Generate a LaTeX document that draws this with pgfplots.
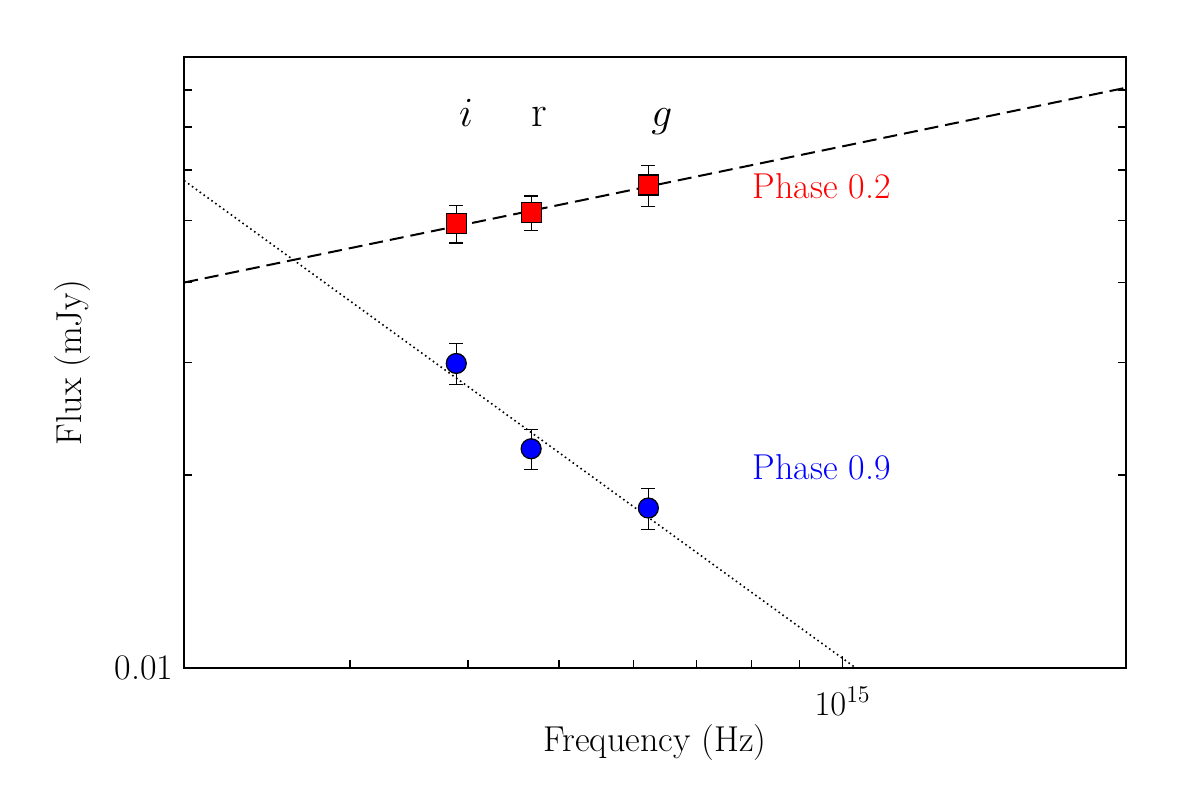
\documentclass[border=0pt]{standalone}
\usepackage{pgfplots}
\pgfplotsset{compat=1.18}
\newcommand{\F}{\fontsize{18}{22}\selectfont}
\begin{document}
\begin{tikzpicture}[x=1pt,y=1pt]
\path[use as bounding box] (0,0) rectangle (590.5,393);
\begin{axis}[
  at={(92pt,59pt)}, anchor=south west,
  scale only axis, width=471pt, height=305.5pt,
  xmode=log, ymode=log,
  xmin=2e14, xmax=2e15, ymin=0.01, ymax=0.09,
  axis line style={line width=1pt},
  xtick={1e15}, minor xtick={3e14,4e14,5e14,6e14,7e14,8e14,9e14},
  xtick pos=bottom,
  ytick={0.01}, yticklabels={0.01},
  minor ytick={0.02,0.03,0.04,0.05,0.06,0.07,0.08,0.09},
  ytick pos=both, yticklabel pos=left,
  tick align=inside,
  major tick length=6pt, minor tick length=4pt,
  every tick/.style={black, line width=0.8pt},
  tick label style={font=\F},
  xticklabel style={yshift=-6pt},
  yticklabel style={xshift=-2pt},
  xlabel={Frequency (Hz)}, ylabel={Flux (mJy)},
  every axis x label/.style={at={(axis description cs:0.5,-0.1227)}, anchor=center, font=\F},
  every axis y label/.style={at={(axis description cs:-0.1189,0.5)}, rotate=90, anchor=center, font=\F},
]
\addplot[only marks, mark=square*, mark size=5pt,
  mark options={fill=red, draw=black, line width=0.6pt},
  error bars/.cd, y dir=both, y explicit,
  error bar style={line width=0.6pt, black},
  error mark options={rotate=90, mark size=3.5pt, line width=0.6pt, black}]
  coordinates {
  (3.89e14,0.0494) +- (0,0.0033)
  (4.67e14,0.0514) +- (0,0.0032)
  (6.22e14,0.0568) +- (0,0.0042)
  };
\addplot[only marks, mark=*, mark size=5pt,
  mark options={fill=blue, draw=black, line width=0.6pt},
  error bars/.cd, y dir=both, y explicit,
  error bar style={line width=0.6pt, black},
  error mark options={rotate=90, mark size=3.5pt, line width=0.6pt, black}]
  coordinates {
  (3.89e14,0.0299) +- (0,0.0022)
  (4.67e14,0.0220) +- (0,0.0016)
  (6.22e14,0.01778) +- (0,0.0013)
  };
\addplot[black, line width=1pt, dash pattern=on 7pt off 3.5pt]
  coordinates {(2e14,0.0400) (2e15,0.0806)};
\addplot[black, line width=0.8pt, dash pattern=on 0.8pt off 1.6pt]
  coordinates {(2e14,0.0577) (2e15,0.00494)};
\node[red, anchor=west, inner sep=0pt, font=\F] at (axis cs:8.02e14,0.0566) {Phase 0.2};
\node[blue, anchor=west, inner sep=0pt, font=\F] at (axis cs:8.02e14,0.0206) {Phase 0.9};
\node[anchor=base, font=\fontsize{22}{26}\selectfont] at (axis cs:3.985e14,0.070) {$i$};
\node[anchor=base, font=\fontsize{22}{26}\selectfont] at (axis cs:4.76e14,0.070) {r};
\node[anchor=base, font=\fontsize{22}{26}\selectfont] at (axis cs:6.43e14,0.070) {$g$};
\end{axis}
\end{tikzpicture}
\end{document}
